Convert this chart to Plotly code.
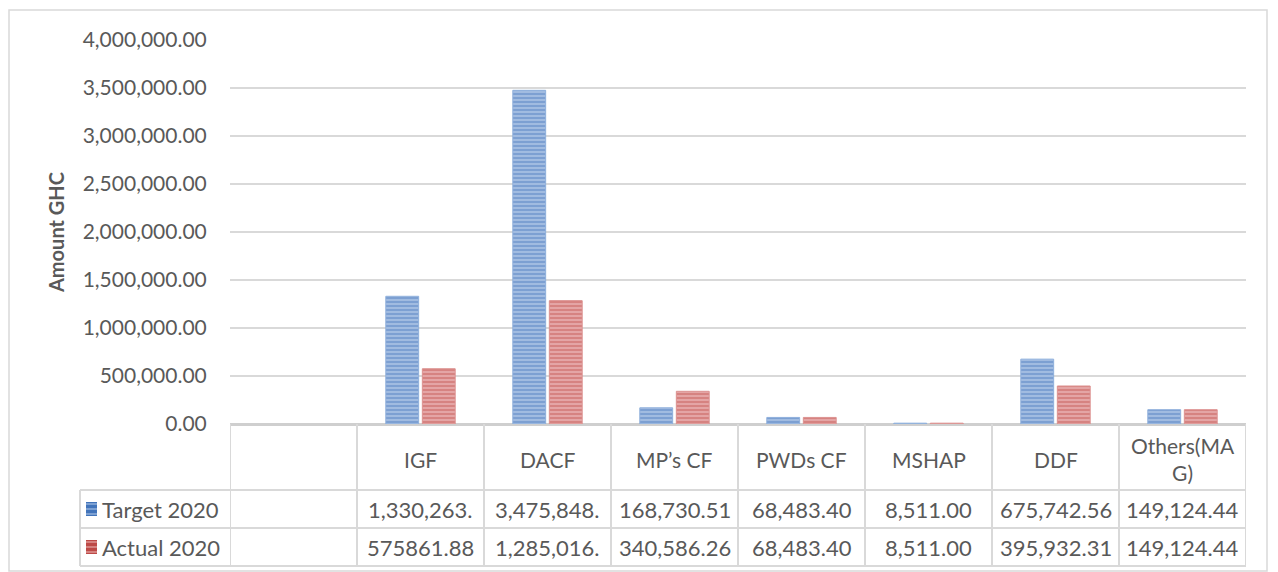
import plotly.graph_objects as go

categories = ["", "IGF", "DACF", "MP’s CF", "PWDs CF", "MSHAP", "DDF", "Others(MA<br>G)"]
target_2020 = [None, 1330263.00, 3475848.00, 168730.51, 68483.40, 8511.00, 675742.56, 149124.44]
actual_2020 = [None, 575861.88, 1285016.00, 340586.26, 68483.40, 8511.00, 395932.31, 149124.44]
target_labels = ["", "1,330,263.", "3,475,848.", "168,730.51", "68,483.40", "8,511.00", "675,742.56", "149,124.44"]
actual_labels = ["", "575861.88", "1,285,016.", "340,586.26", "68,483.40", "8,511.00", "395,932.31", "149,124.44"]
series_names = ["Target 2020", "Actual 2020"]
tick_vals = [0, 500000, 1000000, 1500000, 2000000, 2500000, 3000000, 3500000, 4000000]
tick_text = ["{:,.2f}".format(v) for v in tick_vals]

W, H = 1278, 572
L, R, T, B = 230, 32, 40, 148
pw, ph = W - L - R, H - T - B
FONT = "Lato"
GREY = "#595959"
LINE = "#d9d9d9"
BLUE, BLUE_L = "#4274ba", "#b8cdea"
RED, RED_L = "#bd4a47", "#eebcbb"

x = list(range(len(categories)))


def py(p):
    # pixel row -> paper y
    return (H - B - p) / ph


def px(p):
    # pixel column -> paper x
    return (p - L) / pw


fig = go.Figure()
fig.add_trace(go.Bar(
    x=x, y=target_2020, name=series_names[0],
    marker=dict(color=BLUE_L, line=dict(color="#8fb0dc", width=1),
                pattern=dict(shape="-", fgcolor=BLUE, size=4, solidity=0.7)),
))
fig.add_trace(go.Bar(
    x=x, y=actual_2020, name=series_names[1],
    marker=dict(color=RED_L, line=dict(color="#dc9290", width=1),
                pattern=dict(shape="-", fgcolor=RED, size=4, solidity=0.7)),
))

shapes = []
annotations = []

# data table lines
row_y = [py(490), py(528), py(566)]
top_y = py(424)
for i in range(len(categories) + 1):
    shapes.append(dict(type="line", xref="x", yref="paper", x0=i - 0.5, x1=i - 0.5,
                       y0=top_y, y1=row_y[-1], line=dict(color=LINE, width=2)))
for yy in row_y:
    shapes.append(dict(type="line", xref="paper", yref="paper", x0=px(80), x1=1,
                       y0=yy, y1=yy, line=dict(color=LINE, width=2)))
shapes.append(dict(type="line", xref="paper", yref="paper", x0=px(80), x1=px(80),
                   y0=row_y[0], y1=row_y[-1], line=dict(color=LINE, width=2)))

# outer chart border
shapes.append(dict(type="rect", xref="paper", yref="paper", x0=px(9), x1=px(1267),
                   y0=py(571), y1=py(10), line=dict(color=LINE, width=1.5)))

# table text
txt = dict(showarrow=False, xanchor="center", yanchor="middle")
for i, c in enumerate(categories):
    annotations.append(dict(xref="x", yref="paper", x=i, y=py(459), text=c,
                            font=dict(family=FONT, size=21, color=GREY), **txt))
    annotations.append(dict(xref="x", yref="paper", x=i, y=py(509), text=target_labels[i],
                            font=dict(family=FONT, size=22, color=GREY), **txt))
    annotations.append(dict(xref="x", yref="paper", x=i, y=py(547), text=actual_labels[i],
                            font=dict(family=FONT, size=22, color=GREY), **txt))

# legend keys in table
for name, ypix, col, lc in [(series_names[0], 509, BLUE, BLUE_L), (series_names[1], 547, RED, RED_L)]:
    shapes.append(dict(type="rect", xref="paper", yref="paper", x0=px(86), x1=px(97),
                       y0=py(ypix + 7), y1=py(ypix - 7), fillcolor=col, line=dict(width=0)))
    for k in range(3):
        yy = py(ypix - 5 + k * 5)
        shapes.append(dict(type="line", xref="paper", yref="paper", x0=px(86), x1=px(97),
                           y0=yy, y1=yy, line=dict(color=lc, width=1)))
    annotations.append(dict(xref="paper", yref="paper", x=px(100), y=py(ypix), text=name,
                            xanchor="left", yanchor="middle", showarrow=False,
                            font=dict(family=FONT, size=22, color=GREY)))

fig.update_layout(
    width=W, height=H,
    margin=dict(l=L, r=R, t=T, b=B),
    plot_bgcolor="white", paper_bgcolor="white",
    barmode="group", bargap=0.425, bargroupgap=0.1,
    showlegend=False,
    shapes=shapes, annotations=annotations,
    xaxis=dict(range=[-0.5, len(categories) - 0.5], showticklabels=False,
               showgrid=False, zeroline=False, fixedrange=True),
    yaxis=dict(range=[0, 4000000], tickvals=tick_vals, ticktext=tick_text,
               showgrid=True, gridcolor=LINE, gridwidth=1.5,
               zeroline=True, zerolinecolor="#cfcfcf", zerolinewidth=3,
               ticks="outside", ticklen=18, tickcolor="rgba(0,0,0,0)",
               tickfont=dict(family=FONT, size=21, color=GREY),
               title=dict(text="<b>Amount GHC</b>", standoff=12,
                          font=dict(family=FONT, size=20, color=GREY))),
)

fig.write_html("out.html", config={"displayModeBar": False},
               post_script="document.body.style.margin='0';")
